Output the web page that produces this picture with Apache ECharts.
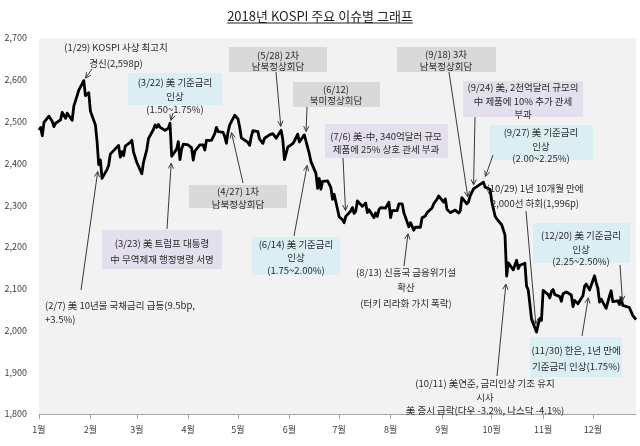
<!DOCTYPE html>
<html><head><meta charset="utf-8">
<script src="https://cdn.jsdelivr.net/npm/echarts@6/dist/echarts.min.js"></script>
<style>html,body{margin:0;padding:0;background:#fff}#c{width:640px;height:446px}</style>
</head><body><div id="c"></div>
<script>
const titleText = '2018년 KOSPI 주요 이슈별 그래프';
const monthTicks = ['2018-01-02','2018-02-02','2018-03-02','2018-04-02','2018-05-02','2018-06-02','2018-07-02','2018-08-02','2018-09-02','2018-10-02','2018-11-02','2018-12-02'];
const monthLabels = ['1월','2월','3월','4월','5월','6월','7월','8월','9월','10월','11월','12월'];
const yMin = 1800, yMax = 2700, yStep = 100;

const dates = [
'01-02','01-03','01-04','01-05','01-08','01-09','01-10','01-11','01-12','01-15','01-16','01-17','01-18','01-19','01-22','01-23','01-24','01-25','01-26','01-29','01-30','01-31',
'02-01','02-02','02-05','02-06','02-07','02-08','02-09','02-12','02-13','02-14','02-19','02-20','02-21','02-22','02-23','02-26','02-27','02-28',
'03-02','03-05','03-06','03-07','03-08','03-09','03-12','03-13','03-14','03-15','03-16','03-19','03-20','03-21','03-22','03-23','03-26','03-27','03-28','03-29','03-30',
'04-02','04-03','04-04','04-05','04-06','04-09','04-10','04-11','04-12','04-13','04-16','04-17','04-18','04-19','04-20','04-23','04-24','04-25','04-26','04-27','04-30',
'05-02','05-03','05-04','05-08','05-09','05-10','05-11','05-14','05-15','05-16','05-17','05-18','05-21','05-23','05-24','05-25','05-28','05-29','05-30','05-31',
'06-01','06-04','06-05','06-07','06-08','06-11','06-12','06-14','06-15','06-18','06-19','06-20','06-21','06-22','06-25','06-26','06-27','06-28','06-29',
'07-02','07-03','07-04','07-05','07-06','07-09','07-10','07-11','07-12','07-13','07-16','07-17','07-18','07-19','07-20','07-23','07-24','07-25','07-26','07-27','07-30','07-31',
'08-01','08-02','08-03','08-06','08-07','08-08','08-09','08-10','08-13','08-14','08-16','08-17','08-20','08-21','08-22','08-23','08-24','08-27','08-28','08-29','08-30','08-31',
'09-03','09-04','09-05','09-06','09-07','09-10','09-11','09-12','09-13','09-14','09-17','09-18','09-19','09-20','09-21','09-27','09-28',
'10-01','10-02','10-04','10-05','10-08','10-10','10-11','10-12','10-15','10-16','10-17','10-18','10-19','10-22','10-23','10-24','10-25','10-26','10-29','10-30','10-31',
'11-01','11-02','11-05','11-06','11-07','11-08','11-09','11-12','11-13','11-14','11-15','11-16','11-19','11-20','11-21','11-22','11-23','11-26','11-27','11-28','11-29','11-30',
'12-03','12-04','12-05','12-06','12-07','12-10','12-11','12-12','12-13','12-14','12-17','12-18','12-19','12-20','12-21','12-24','12-26','12-27','12-28'
];
const values = [
2480,2486,2466,2498,2513,2510,2500,2488,2496,2504,2522,2515,2508,2520,2503,2537,2538,2562,2575,2598,2562,2566,
2569,2525,2492,2453,2397,2408,2364,2385,2395,2422,2443,2415,2428,2418,2441,2450,2455,2427,
2402,2375,2402,2401,2433,2459,2481,2492,2486,2493,2486,2479,2478,2484,2496,2417,2434,2452,2409,2434,2446,
2444,2442,2437,2408,2429,2444,2441,2444,2432,2455,2455,2453,2471,2486,2476,2474,2464,2448,2475,2492,2515,
2506,2487,2461,2450,2443,2464,2478,2476,2458,2459,2448,2460,2468,2471,2466,2460,2479,2457,2409,2423,
2439,2447,2453,2470,2451,2468,2469,2423,2404,2376,2340,2364,2338,2357,2358,2350,2342,2314,2326,
2272,2273,2265,2258,2273,2286,2294,2280,2285,2310,2297,2298,2305,2282,2289,2270,2281,2273,2289,2294,2293,2295,
2307,2270,2287,2287,2303,2301,2303,2282,2248,2258,2240,2247,2247,2270,2273,2274,2282,2293,2303,2307,2314,2322,
2307,2315,2290,2287,2282,2288,2286,2281,2286,2318,2303,2308,2322,2323,2339,2355,2343,
2338,2309,2274,2267,2253,2228,2130,2162,2145,2145,2168,2148,2156,2161,2106,2097,2063,2027,1996,2014,2029,
2024,2096,2086,2078,2093,2098,2086,2081,2070,2088,2086,2092,2085,2057,2072,2076,2064,2083,2106,2111,2114,2097,
2131,2114,2101,2068,2075,2053,2052,2082,2095,2069,2071,2062,2078,2060,2061,2055,2036,2032,2026
];

// event annotations: target trading day + text lines
const eventTargets = ['01-29','03-22','03-23','02-07','04-27','05-28','06-12','06-14','07-06','08-13','09-18','09-21','09-27','10-29','10-11','11-30','12-20'];
const eventTexts = [
  ['(1/29) KOSPI 사상 최고치','경신(2,598p)'],
  ['(3/22) 美 기준금리','인상','(1.50~1.75%)'],
  ['(3/23) 美 트럼프 대통령','中 무역제재 행정명령 서명'],
  ['(2/7) 美 10년물 국채금리 급등(9.5bp,','+3.5%)'],
  ['(4/27) 1차','남북정상회담'],
  ['(5/28) 2차','남북정상회담'],
  ['(6/12)','북미정상회담'],
  ['(6/14) 美 기준금리','인상','(1.75~2.00%)'],
  ['(7/6) 美-中, 340억달러 규모','제품에 25% 상호 관세 부과'],
  ['(8/13) 신흥국 금융위기설','확산','(터키 리라화 가치 폭락)'],
  ['(9/18) 3차','남북정상회담'],
  ['(9/24) 美, 2천억달러 규모의','中 제품에 10% 추가 관세','부과'],
  ['(9/27) 美 기준금리','인상','(2.00~2.25%)'],
  ['(10/29) 1년 10개월 만에','2,000선 하회(1,996p)'],
  ['(10/11) 美연준, 금리인상 기조 유지','시사','美 증시 급락(다우 -3.2%, 나스닥 -4.1%)'],
  ['(11/30) 한은, 1년 만에','기준금리 인상(1.75%)'],
  ['(12/20) 美 기준금리','인상','(2.25~2.50%)']
];
// layout of annotation boxes (pixels) — kept apart from data
const BLUE='#daeef3', PURPLE='#e4dfec', GRAY='#d9d9d9';
const eventLayout = [
  {box:null, cx:116, ys:[47,63], tail:[92,69], gap:3},
  {box:[128,73,94,32], bg:BLUE, cx:175, ys:[82,96,109], tail:[173,113], gap:3},
  {box:[102,230,120,39], bg:PURPLE, cx:162, ys:[243,259], tail:[167,229], gap:7},
  {box:null, left:45, ys:[305,319], tail:[81,290], gap:7},
  {box:[189,185,98,23], bg:GRAY, cx:238, ys:[191,204], tail:[243,183], gap:8},
  {box:[229,47,98,25], bg:GRAY, cx:278, ys:[55,66], tail:[276,72], gap:4},
  {box:[293,82,87,25], bg:GRAY, cx:336, ys:[89,100], tail:[307,107], gap:3},
  {box:[252,237,88,38], bg:BLUE, cx:296, ys:[244,257,270], tail:[294,236], gap:12},
  {box:[325,124,123,34], bg:PURPLE, cx:386, ys:[136,149], tail:[343,158], gap:6},
  {box:null, cx:406, ys:[272,287,303], tail:[404,266], gap:7},
  {box:[397,47,99,25], bg:GRAY, cx:446, ys:[54,66], tail:[449,72], gap:5},
  {box:[463,81,120,36], bg:PURPLE, cx:523, ys:[87,101,114], tail:[475,117], gap:4},
  {box:[490,125,103,35], bg:BLUE, cx:541, ys:[132,146,158], tail:[493,155], gap:6},
  {box:null, cx:535, ys:[188,203], tail:[526,211], gap:8},
  {box:null, cx:485, ys:[383,397,410], tail:[497,376], gap:8},
  {box:[530,337,92,40], bg:BLUE, cx:576, ys:[350,366], tail:[582,336], gap:8},
  {box:[533,223,97,40], bg:BLUE, cx:581, ys:[235,249,261], tail:[620,265], gap:4}
];

const FONT = '"Noto Sans CJK KR", "Noto Sans", sans-serif';
function t(s){ const [y,m,d]=s.split('-').map(Number); return Date.UTC(y,m-1,d); }
const tickTimes = monthTicks.map(t);
const seriesData = dates.map((d,i)=>[t('2018-'+d), values[i]]);

const chart = echarts.init(document.getElementById('c'), null, {renderer:'canvas'});
chart.setOption({
  animation:false,
  backgroundColor:'#ffffff',
  title:{text:titleText, left:'center', top:5,
    textStyle:{fontSize:13, fontWeight:'normal', color:'#222', fontFamily:FONT}},
  grid:{left:39, right:4, top:38, bottom:32, show:true, backgroundColor:'#f2f2f2', borderWidth:0},
  xAxis:{type:'value', min:t('2018-01-02'), max:t('2018-12-28'), scale:true,
    axisLine:{show:true, lineStyle:{color:'#a6a6a6', width:1}},
    axisTick:{show:true, length:5, lineStyle:{color:'#a6a6a6'}, customValues:tickTimes},
    axisLabel:{customValues:tickTimes, margin:11, fontSize:9, color:'#404040', fontFamily:FONT,
      formatter:(v)=>{ const i=tickTimes.indexOf(v); return i>=0?monthLabels[i]:''; }},
    splitLine:{show:false}},
  yAxis:{type:'value', min:yMin, max:yMax, interval:yStep,
    axisLine:{show:false}, axisTick:{show:false}, splitLine:{show:false},
    axisLabel:{fontSize:9, color:'#404040', margin:12, fontFamily:FONT,
      formatter:(v)=>v.toLocaleString('en-US')}},
  series:[{type:'line', data:seriesData, showSymbol:false, symbol:'none',
    lineStyle:{color:'#000', width:2.8, join:'round'}, z:3}]
});

// annotations
const els = [];
(function(){
  const cv=document.createElement('canvas').getContext('2d');
  cv.font='13px '+FONT;
  const w=cv.measureText(titleText).width;
  els.push({type:'line', shape:{x1:320-w/2, y1:23, x2:320+w/2, y2:23}, style:{stroke:'#222', lineWidth:1}});
})();
const ARROW='#3a3a3a';
eventTargets.forEach((d,i)=>{
  const L = eventLayout[i];
  const v = values[dates.indexOf(d)];
  const p = chart.convertToPixel({gridIndex:0}, [t('2018-'+d), v]);
  if (L.box) els.push({type:'rect', z:1, shape:{x:L.box[0], y:L.box[1], width:L.box[2], height:L.box[3]}, style:{fill:L.bg}});
  eventTexts[i].forEach((s,k)=>{
    els.push({type:'text', z:5, x:(L.cx!=null)?L.cx:L.left, y:L.ys[k],
      style:{text:s, font:'9.5px '+FONT, fill:'#2a2a2a', align:L.cx!=null?'center':'left', verticalAlign:'middle'}});
  });
  const [tx,ty]=L.tail; const dx=p[0]-tx, dy=p[1]-ty; const len=Math.hypot(dx,dy);
  const ux=dx/len, uy=dy/len; const hx=p[0]-ux*L.gap, hy=p[1]-uy*L.gap;
  els.push({type:'line', z:4, shape:{x1:tx,y1:ty,x2:hx,y2:hy}, style:{stroke:ARROW, lineWidth:1}});
  const a=0.45, al=6;
  const bx=-ux, by=-uy;
  const p1=[hx+al*(bx*Math.cos(a)-by*Math.sin(a)), hy+al*(bx*Math.sin(a)+by*Math.cos(a))];
  const p2=[hx+al*(bx*Math.cos(-a)-by*Math.sin(-a)), hy+al*(bx*Math.sin(-a)+by*Math.cos(-a))];
  els.push({type:'polyline', z:4, shape:{points:[p1,[hx,hy],p2]}, style:{stroke:ARROW, lineWidth:1, fill:null}});
});
chart.setOption({graphic:{elements:els}});
</script></body></html>
